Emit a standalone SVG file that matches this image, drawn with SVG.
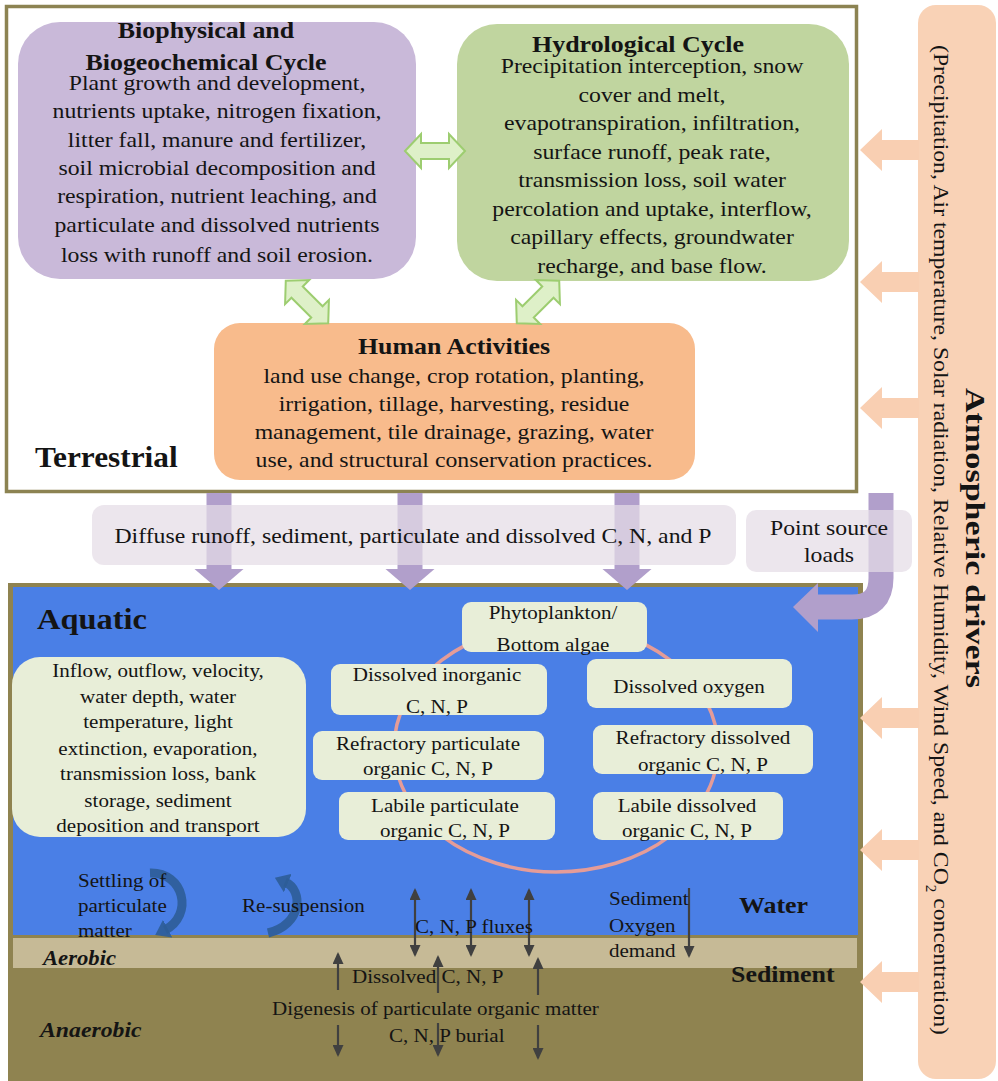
<svg xmlns="http://www.w3.org/2000/svg" width="998" height="1081" viewBox="0 0 998 1081">
<defs>
<style>
text{font-family:"Liberation Serif","Times New Roman",serif;fill:#141414}
.m{text-anchor:middle}
.t22{font-size:22px}
.h24{font-size:24px;font-weight:bold}
.a{font-size:19.5px}
.box{fill:#e8eed8}
.peach{fill:#f9cfb2}
.purple{fill:#b19fcb}
.dbl{fill:#def0c8;stroke:#9dcd70;stroke-width:2}
.gl{stroke:#404040;stroke-width:2.2;fill:none}
.bl{stroke:#2d5d97;stroke-width:9;fill:none;stroke-opacity:0.9}
.veil{fill:#e4dde6;fill-opacity:0.72}
</style>
<marker id="ah" viewBox="0 0 12 11" refX="10" refY="5.5" markerWidth="12" markerHeight="11" markerUnits="userSpaceOnUse" orient="auto-start-reverse">
<path d="M0 0 L12 5.5 L0 11 Z" fill="#404040"/>
</marker>
<marker id="bh" viewBox="0 0 14 20" refX="3" refY="10" markerWidth="14" markerHeight="20" markerUnits="userSpaceOnUse" orient="auto">
<path d="M0 0 L14 10 L0 20 Z" fill="#2d5d97" fill-opacity="0.9"/>
</marker>
<path id="peachArrow" d="M0 0 L22 -21 L22 -10 L59 -10 L59 10 L22 10 L22 21 Z"/>
<path id="purpleDown" d="M-12.5 0 V76 H-24.5 L0 97 L24.5 76 H12.5 V0 Z"/>
<path id="dblArrow" d="M-30 0 L-14 -17 L-14 -8 L14 -8 L14 -17 L30 0 L14 17 L14 8 L-14 8 L-14 17 Z"/>
</defs>

<rect x="0" y="0" width="998" height="1081" fill="#ffffff"/>

<g id="atmospheric">
<rect x="918" y="5" width="78" height="1074" rx="18" fill="#f9d2b6"/>
<text transform="translate(966 538) rotate(90)" class="m" font-size="28" font-weight="bold" textLength="300" lengthAdjust="spacingAndGlyphs">Atmospheric drivers</text>
<text transform="translate(934 540) rotate(90)" class="m" font-size="22" textLength="990" lengthAdjust="spacingAndGlyphs">(Precipitation, Air temperature, Solar radiation, Relative Humidity, Wind Speed, and CO<tspan baseline-shift="sub" font-size="14">2</tspan> concentration)</text>
</g>

<g id="terrestrial">
<rect x="6.5" y="6.5" width="850" height="485" fill="#ffffff" stroke="#8c8352" stroke-width="3.5"/>
<text transform="matrix(1.08 0 0 1 35 0)" x="0" y="467" font-size="29" font-weight="bold">Terrestrial</text>
</g>

<g id="biophysical">
<rect x="18" y="22" width="398" height="257" rx="42" fill="#c9b9d9"/>
<g transform="translate(206 0) scale(1.08 1)" class="m h24">
<text x="0" y="38">Biophysical and</text>
<text x="0" y="70">Biogeochemical Cycle</text>
</g>
<g transform="translate(217 0) scale(1.08 1)" class="m t22">
<text x="0" y="90">Plant growth and development,</text>
<text x="0" y="118.3">nutrients uptake, nitrogen fixation,</text>
<text x="0" y="146.7">litter fall, manure and fertilizer,</text>
<text x="0" y="175">soil microbial decomposition and</text>
<text x="0" y="203.3">respiration, nutrient leaching, and</text>
<text x="0" y="232.3">particulate and dissolved nutrients</text>
<text x="0" y="261.7">loss with runoff and soil erosion.</text>
</g>
</g>

<g id="hydrological">
<rect x="457" y="24" width="392" height="257" rx="40" fill="#c0d59f"/>
<g transform="translate(638 0) scale(1.08 1)" class="m h24">
<text x="0" y="52">Hydrological Cycle</text>
</g>
<g transform="translate(652 0) scale(1.08 1)" class="m t22">
<text x="0" y="73">Precipitation interception, snow</text>
<text x="0" y="101.6">cover and melt,</text>
<text x="0" y="130">evapotranspiration, infiltration,</text>
<text x="0" y="158.7">surface runoff, peak rate,</text>
<text x="0" y="187">transmission loss, soil water</text>
<text x="0" y="216">percolation and uptake, interflow,</text>
<text x="0" y="244.5">capillary effects, groundwater</text>
<text x="0" y="273">recharge, and base flow.</text>
</g>
</g>

<g id="human">
<rect x="214" y="323" width="481" height="157" rx="26" fill="#f8bb8c"/>
<g transform="translate(454 0) scale(1.08 1)" class="m">
<text x="0" y="354" class="h24">Human Activities</text>
<text x="0" y="383" class="t22">land use change, crop rotation, planting,</text>
<text x="0" y="411" class="t22">irrigation, tillage, harvesting, residue</text>
<text x="0" y="439" class="t22">management, tile drainage, grazing, water</text>
<text x="0" y="467" class="t22">use, and structural conservation practices.</text>
</g>
</g>

<g id="aquatic">
<rect x="8" y="583" width="855" height="498" fill="#8f8350"/>
<rect x="13" y="587" width="845" height="348" fill="#4a7fe6"/>
<rect x="13" y="938" width="844" height="30" fill="#c6ba96"/>
<text transform="matrix(1.08 0 0 1 37 0)" x="0" y="629" font-size="30" font-weight="bold">Aquatic</text>
<text transform="matrix(1.08 0 0 1 739 0)" x="0" y="913" font-size="24" font-weight="bold">Water</text>
<text transform="matrix(1.08 0 0 1 731 0)" x="0" y="982" font-size="24" font-weight="bold">Sediment</text>
<text transform="matrix(1.08 0 0 1 43 0)" x="0" y="965" font-size="21" font-weight="bold" font-style="italic">Aerobic</text>
<text transform="matrix(1.08 0 0 1 40 0)" x="0" y="1037" font-size="22" font-weight="bold" font-style="italic">Anaerobic</text>
</g>

<g id="cycle">
<ellipse cx="556" cy="748" rx="162" ry="124" fill="none" stroke="#e59c98" stroke-width="3.5"/>
</g>

<g id="flow-processes">
<rect x="12" y="657" width="294" height="180" rx="28" class="box"/>
<g transform="translate(158 0) scale(1.08 1)" class="m a">
<text x="0" y="677">Inflow, outflow, velocity,</text>
<text x="0" y="703">water depth, water</text>
<text x="0" y="728">temperature, light</text>
<text x="0" y="755">extinction, evaporation,</text>
<text x="0" y="780">transmission loss, bank</text>
<text x="0" y="807">storage, sediment</text>
<text x="0" y="832">deposition and transport</text>
</g>
</g>

<g id="phytoplankton">
<rect x="462" y="602" width="185" height="50" rx="9" class="box"/>
<g transform="translate(553 0) scale(1.08 1)" class="m a">
<text x="0" y="619">Phytoplankton/</text>
<text x="0" y="651">Bottom algae</text>
</g>
</g>

<g id="dissolved-inorganic">
<rect x="331" y="664" width="216" height="51" rx="9" class="box"/>
<g transform="translate(437 0) scale(1.08 1)" class="m a">
<text x="0" y="681">Dissolved inorganic</text>
<text x="0" y="713">C, N, P</text>
</g>
</g>

<g id="refractory-particulate">
<rect x="313" y="731" width="231" height="49" rx="9" class="box"/>
<g transform="translate(428 0) scale(1.08 1)" class="m a">
<text x="0" y="750">Refractory particulate</text>
<text x="0" y="775">organic C, N, P</text>
</g>
</g>

<g id="labile-particulate">
<rect x="339" y="792" width="216" height="48" rx="9" class="box"/>
<g transform="translate(445 0) scale(1.08 1)" class="m a">
<text x="0" y="812">Labile particulate</text>
<text x="0" y="837">organic C, N, P</text>
</g>
</g>

<g id="dissolved-oxygen">
<rect x="587" y="659" width="205" height="49" rx="9" class="box"/>
<g transform="translate(689 0) scale(1.08 1)" class="m a">
<text x="0" y="693">Dissolved oxygen</text>
</g>
</g>

<g id="refractory-dissolved">
<rect x="593" y="725" width="220" height="49" rx="9" class="box"/>
<g transform="translate(703 0) scale(1.08 1)" class="m a">
<text x="0" y="744">Refractory dissolved</text>
<text x="0" y="771">organic C, N, P</text>
</g>
</g>

<g id="labile-dissolved">
<rect x="593" y="792" width="190" height="48" rx="9" class="box"/>
<g transform="translate(687 0) scale(1.08 1)" class="m a">
<text x="0" y="812">Labile dissolved</text>
<text x="0" y="837">organic C, N, P</text>
</g>
</g>

<g id="connectors">
<use href="#dblArrow" class="dbl" transform="translate(435 151)"/>
<use href="#dblArrow" class="dbl" transform="translate(307 302) rotate(45)"/>
<use href="#dblArrow" class="dbl" transform="translate(538 302) rotate(-45)"/>
<use href="#peachArrow" class="peach" x="860" y="150"/>
<use href="#peachArrow" class="peach" x="860" y="282"/>
<use href="#peachArrow" class="peach" x="860" y="408"/>
<use href="#peachArrow" class="peach" x="860" y="718"/>
<use href="#peachArrow" class="peach" x="860" y="850"/>
<use href="#peachArrow" class="peach" x="860" y="982"/>
<use href="#purpleDown" class="purple" x="219" y="493"/>
<use href="#purpleDown" class="purple" x="410" y="493"/>
<use href="#purpleDown" class="purple" x="627" y="493"/>
<path d="M881 493 V578 Q881 607 852 607 H816" stroke="#b19fcb" stroke-width="25" fill="none"/>
<polygon points="818,583 818,632 793,607" class="purple"/>
<path class="bl" d="M150 873 C184 872 194 915 165 930" marker-end="url(#bh)"/>
<path class="bl" d="M268 933 C302 925 304 890 285 882" marker-end="url(#bh)"/>
<line class="gl" x1="415" y1="890" x2="415" y2="955" marker-start="url(#ah)" marker-end="url(#ah)"/>
<line class="gl" x1="471" y1="890" x2="471" y2="955" marker-start="url(#ah)" marker-end="url(#ah)"/>
<line class="gl" x1="529" y1="890" x2="529" y2="955" marker-start="url(#ah)" marker-end="url(#ah)"/>
<line class="gl" x1="689" y1="888" x2="689" y2="956" marker-end="url(#ah)"/>
<line class="gl" x1="338" y1="990" x2="338" y2="954" marker-end="url(#ah)"/>
<line class="gl" x1="438" y1="993" x2="438" y2="957" marker-end="url(#ah)"/>
<line class="gl" x1="538" y1="995" x2="538" y2="959" marker-end="url(#ah)"/>
<line class="gl" x1="338" y1="1025" x2="338" y2="1055" marker-end="url(#ah)"/>
<line class="gl" x1="438" y1="1023" x2="438" y2="1055" marker-end="url(#ah)"/>
<line class="gl" x1="538" y1="1025" x2="538" y2="1058" marker-end="url(#ah)"/>
<g class="a">
<text transform="matrix(1.08 0 0 1 78 0)" x="0" y="887">Settling of</text>
<text transform="matrix(1.08 0 0 1 78 0)" x="0" y="912">particulate</text>
<text transform="matrix(1.08 0 0 1 78 0)" x="0" y="937">matter</text>
<text transform="matrix(1.08 0 0 1 242 0)" x="0" y="912">Re-suspension</text>
<text transform="matrix(1.08 0 0 1 415 0)" x="0" y="933">C, N, P fluxes</text>
<text transform="matrix(1.08 0 0 1 609 0)" x="0" y="905">Sediment</text>
<text transform="matrix(1.08 0 0 1 609 0)" x="0" y="932">Oxygen</text>
<text transform="matrix(1.08 0 0 1 609 0)" x="0" y="957">demand</text>
<text transform="matrix(1.08 0 0 1 352 0)" x="0" y="983">Dissolved C, N, P</text>
<text transform="matrix(1.08 0 0 1 272 0)" x="0" y="1015">Digenesis of particulate organic matter</text>
<text transform="matrix(1.08 0 0 1 389 0)" x="0" y="1042">C, N, P burial</text>
</g>
</g>

<g id="diffuse-loads">
<rect x="92" y="505" width="644" height="60" rx="12" class="veil"/>
<text transform="matrix(1.08 0 0 1 413 0)" x="0" y="543" class="m t22">Diffuse runoff, sediment, particulate and dissolved C, N, and P</text>
</g>

<g id="point-source-loads">
<rect x="746" y="510" width="166" height="62" rx="10" class="veil"/>
<g transform="translate(829 0) scale(1.08 1)" class="m t22">
<text x="0" y="535">Point source</text>
<text x="0" y="562">loads</text>
</g>
</g>
</svg>
